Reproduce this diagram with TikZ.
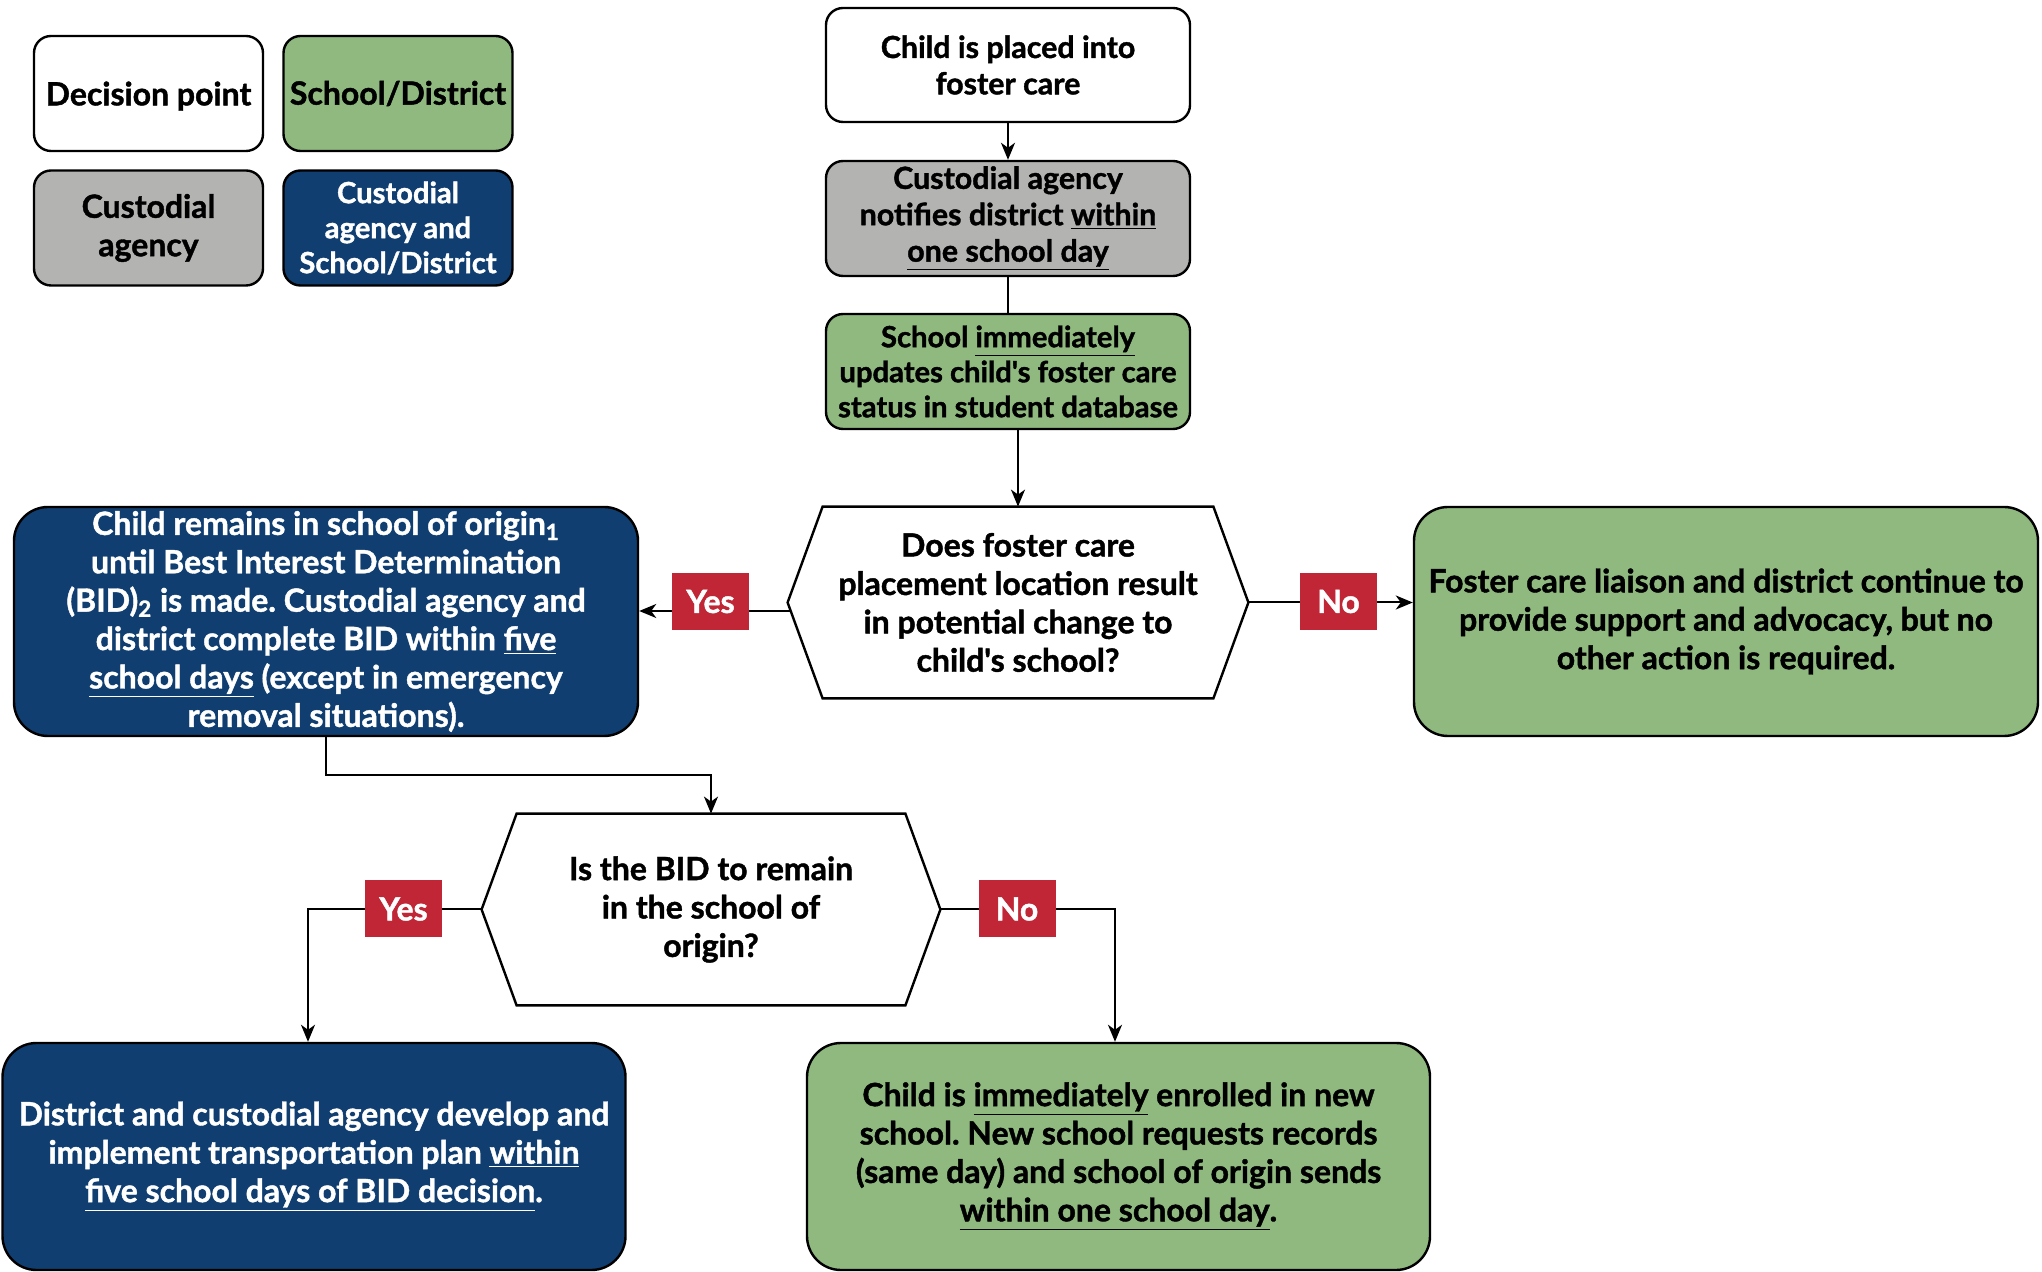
\documentclass[tikz,border=0pt]{standalone}
\usepackage{fontspec}
\setmainfont{Lato}[Ligatures=TeXOff,BoldFeatures={FakeBold=1.3}]
\usetikzlibrary{arrows.meta,calc}
\definecolor{cgreen}{RGB}{143,185,126}
\definecolor{cnavy}{RGB}{16,62,112}
\definecolor{cgrey}{RGB}{179,179,178}
\definecolor{cred}{RGB}{193,38,54}
\tikzset{
  txt/.style={align=center,font=\bfseries\frenchspacing\fontsize{16}{19.2}\selectfont,inner sep=0pt},
  smallfont/.style={font=\bfseries\frenchspacing\fontsize{15.2}{18.2}\selectfont},
  tinyfont/.style={font=\bfseries\frenchspacing\fontsize{14.6}{17.5}\selectfont},
  sbox/.style={txt,draw=black,line width=1.2pt,rounded corners=8.5pt},
  bbox/.style={txt,draw=black,line width=1.2pt,rounded corners=17pt},
  hexn/.style={txt,minimum width=230pt,minimum height=95.5pt},
  lbl/.style={txt,fill=cred,text=white,minimum width=38.5pt,minimum height=28.5pt},
  conn/.style={line width=1pt,draw=black},
  arr/.style={conn,-{Stealth[length=8.5pt,width=7pt,inset=2.5pt]}}
}
\begin{document}
\begin{tikzpicture}[x=0.5pt,y=-0.5pt]
\useasboundingbox (0,0) rectangle (2042,1272);
% legend
\node[sbox,fill=white,minimum width=114.5pt,minimum height=57.5pt,text depth=0pt] (lgDP) at (148.5,93.5) {Decision point};
\node[sbox,fill=cgreen,minimum width=114.5pt,minimum height=57.5pt] (lgSD) at (398,93.5) {School/District};
\node[sbox,fill=cgrey,minimum width=114.5pt,minimum height=57.5pt] (lgCA) at (148.5,228) {Custodial\\agency};
\node[sbox,tinyfont,fill=cnavy,text=white,minimum width=114.5pt,minimum height=57.5pt] (lgCASD) at (398,228) {Custodial\\agency and\\School/District};
% main column
\node[sbox,smallfont,fill=white,minimum width=182pt,minimum height=57pt] (child) at (1008,65) {Child is placed into\\foster care};
\node[sbox,smallfont,fill=cgrey,minimum width=182pt,minimum height=57.5pt] (notify) at (1008,218.5) {Custodial agency\\notifies district \underline{within}\\\underline{one school day}};
\node[sbox,tinyfont,fill=cgreen,minimum width=182pt,minimum height=57.5pt] (update) at (1008,371.5) {School \underline{immediately}\\updates child's foster care\\status in student database};
% decision 1
\node[hexn] (hexA) at (1018,602.5) {Does foster care\\placement location result\\in potential change to\\child's school?};
\draw[line width=1.2pt] ([xshift=17.5pt]hexA.north west) -- ([xshift=-17.5pt]hexA.north east) -- (hexA.east) -- ([xshift=-17.5pt]hexA.south east) -- ([xshift=17.5pt]hexA.south west) -- (hexA.west) -- cycle;
\node[bbox,fill=cnavy,text=white,minimum width=312pt,minimum height=114.5pt] (stay) at (326,621.5) {Child remains in school of origin\textsubscript{1}\\until Best Interest Determination\\(BID)\textsubscript{2} is made. Custodial agency and\\district complete BID within \underline{five}\\\underline{school days} (except in emergency\\removal situations).};
\node[bbox,fill=cgreen,minimum width=312pt,minimum height=114.5pt] (support) at (1726,621.5) {Foster care liaison and district continue to\\provide support and advocacy, but no\\other action is required.};
% decision 2
\node[hexn,minimum width=229pt] (hexB) at (711,909.5) {Is the BID to remain\\in the school of\\origin?};
\draw[line width=1.2pt] ([xshift=17.5pt]hexB.north west) -- ([xshift=-17.5pt]hexB.north east) -- (hexB.east) -- ([xshift=-17.5pt]hexB.south east) -- ([xshift=17.5pt]hexB.south west) -- (hexB.west) -- cycle;
\node[bbox,fill=cnavy,text=white,minimum width=311.5pt,minimum height=113.5pt] (transport) at (314,1156.5) {District and custodial agency develop and\\implement transportation plan \underline{within}\\\underline{five school days of BID decision}.};
\node[bbox,fill=cgreen,minimum width=311.5pt,minimum height=113.5pt] (enroll) at (1118.5,1156.5) {Child is \underline{immediately} enrolled in new\\school. New school requests records\\(same day) and school of origin sends\\\underline{within one school day}.};
% connectors
\draw[arr] (child.south) -- (notify.north);
\draw[conn] (notify.south) -- (update.north);
\draw[arr] (hexA.north |- update.south) -- (hexA.north);
\coordinate (yesA) at (791,611);
\draw[arr] (yesA) -- (yesA -| stay.east);
\draw[arr] (hexA.east) -- (hexA.east -| support.west);
\draw[arr] (stay.south) -- ++(0,37.5) -| (hexB.north);
\draw[arr] (hexB.west) -| ([xshift=-3pt]transport.north);
\draw[arr] (hexB.east) -| ([xshift=-1.75pt]enroll.north);
% labels
\node[lbl] (lYesA) at (710.5,601.5) {Yes};
\node[lbl] (lNoA) at (1338.5,601.5) {No};
\node[lbl] (lYesB) at (403.5,909) {Yes};
\node[lbl] (lNoB) at (1017,909) {No};
\end{tikzpicture}
\end{document}
